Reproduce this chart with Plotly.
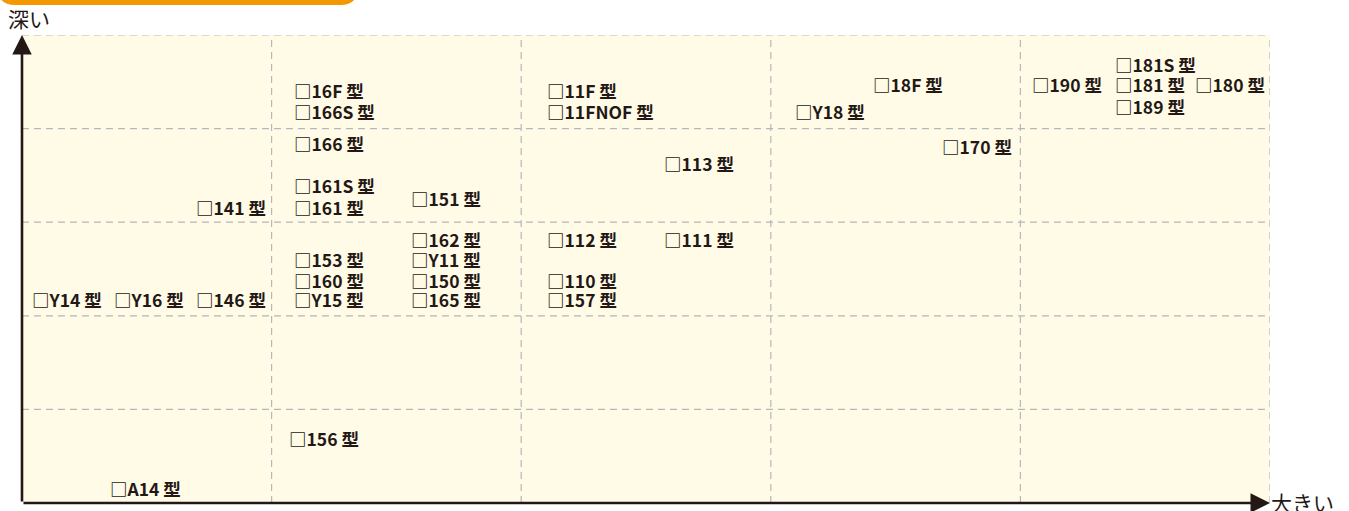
import plotly.graph_objects as go

# ---- data ----
labels = [
    "□A14 型", "□156 型",
    "□Y14 型", "□Y16 型", "□146 型",
    "□153 型", "□160 型", "□Y15 型",
    "□162 型", "□Y11 型", "□150 型", "□165 型",
    "□112 型", "□111 型", "□110 型", "□157 型",
    "□141 型", "□166 型", "□161S 型", "□161 型", "□151 型",
    "□113 型", "□170 型",
    "□16F 型", "□166S 型", "□11F 型", "□11FNOF 型",
    "□18F 型", "□Y18 型",
    "□190 型", "□181S 型", "□181 型", "□180 型", "□189 型",
]
size_x = [
    0.357, 1.074,
    0.044, 0.373, 0.701,
    1.094, 1.094, 1.094,
    1.563, 1.563, 1.563, 1.563,
    2.107, 2.576, 2.107, 2.107,
    0.701, 1.094, 1.094, 1.094, 1.563,
    2.576, 3.690,
    1.094, 1.094, 2.107, 2.107,
    3.413, 3.101,
    4.050, 4.383, 4.383, 4.704, 4.383,
]
depth_y = [
    0.160, 0.684,
    2.169, 2.169, 2.169,
    2.600, 2.382, 2.169,
    2.820, 2.600, 2.382, 2.169,
    2.820, 2.820, 2.382, 2.169,
    3.162, 3.846, 3.387, 3.162, 3.248,
    3.622, 3.814,
    4.412, 4.188, 4.412, 4.188,
    4.466, 4.188,
    4.466, 4.690, 4.466, 4.466, 4.241,
]
n_cols = 5
n_rows = 5
x_axis_label = "大きい"
y_axis_label = "深い"

INK = "#231815"
GRID = "#b3b8b8"
BG = "#fffbe6"
ORANGE = "#f39800"

fig = go.Figure()

# invisible trace to set up axes
fig.add_trace(go.Scatter(x=[0, n_cols], y=[0, n_rows], mode="markers",
                         marker=dict(opacity=0), hoverinfo="skip", showlegend=False))

shapes = []
# background
shapes.append(dict(type="rect", xref="x", yref="y", x0=0, x1=n_cols, y0=0, y1=n_rows,
                   fillcolor=BG, line=dict(width=0), layer="below"))
# dashed grid
for i in range(1, n_cols + 1):
    shapes.append(dict(type="line", xref="x", yref="y", x0=i, x1=i, y0=0, y1=n_rows,
                       line=dict(color=GRID, width=1.2, dash="7px,5px"), layer="below"))
for j in range(1, n_rows + 1):
    shapes.append(dict(type="line", xref="x", yref="y", x0=0, x1=n_cols, y0=j, y1=j,
                       line=dict(color=GRID, width=1.2, dash="7px,5px"), layer="below"))
# orange header tab (cut off at top)
shapes.append(dict(type="path", xref="paper", yref="paper",
                   path="M -0.03,1.12 L 0.269,1.12 L 0.269,1.10 Q 0.269,1.064 0.255,1.064 "
                        "L -0.005,1.064 Q -0.018,1.064 -0.018,1.09 Z",
                   fillcolor=ORANGE, line=dict(width=0)))

annotations = []
# axis arrows
annotations.append(dict(x=0, y=n_rows, ax=0, ay=0, xref="x", yref="y", axref="x", ayref="y",
                        showarrow=True, arrowhead=2, arrowsize=1.5, arrowwidth=2.6,
                        arrowcolor=INK, text=""))
annotations.append(dict(x=n_cols, y=0, ax=0, ay=0, xref="x", yref="y", axref="x", ayref="y",
                        showarrow=True, arrowhead=2, arrowsize=1.5, arrowwidth=2.6,
                        arrowcolor=INK, text=""))
# axis labels
annotations.append(dict(x=0, y=1, xref="paper", yref="paper", text=y_axis_label,
                        showarrow=False, xanchor="left", yanchor="bottom",
                        xshift=-16, yshift=0,
                        font=dict(family="Noto Sans CJK JP", size=21, color=INK)))
annotations.append(dict(x=1, y=0, xref="paper", yref="paper", text=x_axis_label,
                        showarrow=False, xanchor="left", yanchor="middle",
                        xshift=-1, yshift=1,
                        font=dict(family="Noto Sans CJK JP", size=21, color=INK)))
# model labels
for t, xv, yv in zip(labels, size_x, depth_y):
    annotations.append(dict(x=xv, y=yv, xref="x", yref="y", text="<b>" + t + "</b>",
                            showarrow=False, xanchor="left", yanchor="middle", xshift=-3,
                            font=dict(family="Noto Sans CJK JP", size=17.5, color=INK)))

fig.update_layout(
    width=1349, height=511,
    margin=dict(l=22, r=79, t=35, b=8),
    paper_bgcolor="white", plot_bgcolor="white",
    xaxis=dict(range=[0, n_cols], showgrid=False, zeroline=False, showticklabels=False,
               ticks="", showline=False, fixedrange=True),
    yaxis=dict(range=[0, n_rows], showgrid=False, zeroline=False, showticklabels=False,
               ticks="", showline=False, fixedrange=True),
    shapes=shapes, annotations=annotations, showlegend=False,
)

fig.write_html("out.html", config={"displayModeBar": False},
               post_script="document.body.style.margin='0';document.body.style.overflow='hidden';")
